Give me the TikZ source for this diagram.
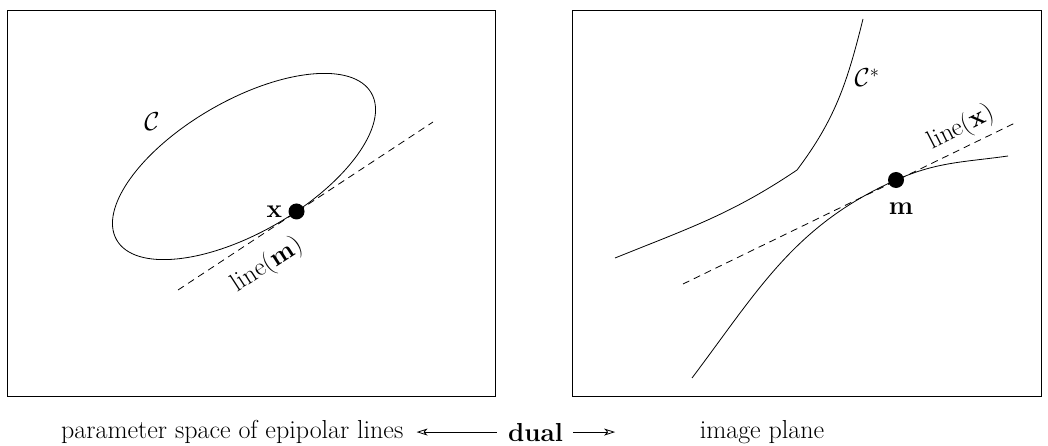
\RequirePackage{fix-cm}
\documentclass[tikz,border=0pt]{standalone}
\usetikzlibrary{arrows.meta,positioning,calc}

\newcommand{\figfont}{\fontsize{26}{31}\selectfont}

\begin{document}
\begin{tikzpicture}[
    x=1pt,y=1pt,
    panel/.style={draw,line width=0.9pt},
    conic/.style={line width=0.8pt},
    tanline/.style={line width=0.8pt,dash pattern=on 7pt off 5pt},
    ptdot/.style={circle,fill=black,inner sep=0pt,minimum size=16pt},
    lbl/.style={font=\figfont,inner sep=1pt},
    dualarrow/.style={-{Stealth[open,length=11pt,width=7pt,inset=3pt]},line width=0.8pt}
  ]
  \useasboundingbox (0,0) rectangle (1048,445);
  % the two panels
  \draw[panel] (7,49) rectangle (495,435);
  \draw[panel] (572,49) rectangle (1041,435);

  % left panel: conic C, point x and its tangent line(m)
  \begin{scope}[shift={(244,278.5)},rotate=30]
    \draw[conic] (0,0) ellipse [x radius=147,y radius=66];
    \coordinate (xpt) at (-81:147 and 66);
  \end{scope}
  \coordinate (lmA) at (178,155);
  \coordinate (lmB) at (433,323);
  \draw[tanline] (lmA) -- (lmB);
  \node[ptdot] (xdot) at (xpt) {};
  \node[lbl,left=5pt of xdot] (xlbl) {$\mathbf{x}$};
  \node[lbl] (clbl) at (152,323) {$\mathcal{C}$};
  \node[lbl,rotate=33] (lmlbl) at (267,180) {line($\mathbf{m}$)};

  % right panel: dual conic C*, point m and line(x)
  \coordinate (ctop) at (863,426);
  \coordinate (cbend) at (797,275);
  \coordinate (cleft) at (615,187);
  \draw[conic] (ctop) to[out=256,in=53] (cbend) to[out=214,in=22] (cleft);
  \node[ptdot] (mdot) at (896,265) {};
  \coordinate (cright) at (1008,289);
  \coordinate (clow) at (692,67);
  \draw[conic] (cright) to[out=188,in=24] (mdot.center) to[out=204,in=53] (clow);
  \coordinate (lxA) at (683,161);
  \coordinate (lxB) at (1017,323);
  \draw[tanline] (lxA) -- (lxB);
  \node[lbl] (cslbl) at (867,367) {$\mathcal{C}^*$};
  \node[lbl,rotate=27] (lxlbl) at (961,317) {line($\mathbf{x}$)};
  \node[lbl,below=14pt of mdot,xshift=5pt] (mlbl) {$\mathbf{m}$};

  % captions
  \node[lbl,anchor=base west] (param) at (60,7) {parameter space of epipolar lines};
  \node[lbl,anchor=base] (dual) at (535.5,4) {\textbf{dual}};
  \node[lbl,anchor=base] (imgp) at (762,7) {image plane};
  \coordinate (rtip) at ($(dual.east)+(51,0)$);
  \draw[dualarrow,shorten <=10pt,shorten >=12pt] (dual.west) -- (dual.west -| param.east);
  \draw[dualarrow,shorten <=9pt] (dual.east) -- (rtip);
\end{tikzpicture}
\end{document}
